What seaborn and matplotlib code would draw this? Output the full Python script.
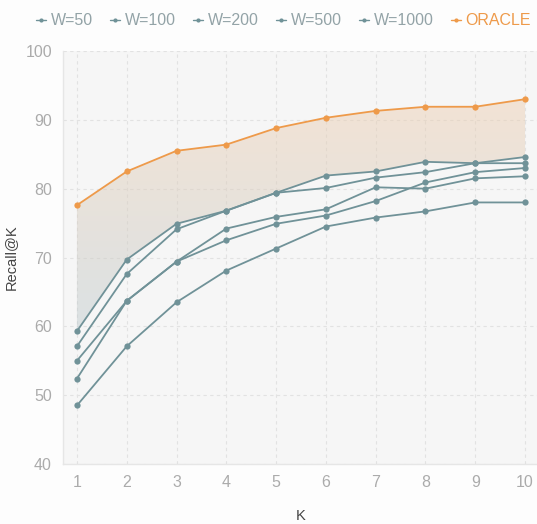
import numpy as np
import pandas as pd
import matplotlib
matplotlib.use("Agg")
import matplotlib.pyplot as plt
from matplotlib.lines import Line2D
import seaborn as sns

# Recall@K for each window size W, plus the oracle upper bound
k_values = [1, 2, 3, 4, 5, 6, 7, 8, 9, 10]
w_labels = ["W=50", "W=100", "W=200", "W=500", "W=1000"]
recall_w50 = [48.5, 57.1, 63.5, 68.1, 71.3, 74.5, 75.8, 76.7, 78.0, 78.0]
recall_w100 = [52.4, 63.7, 69.4, 72.5, 74.9, 76.1, 78.2, 80.9, 82.4, 83.0]
recall_w200 = [55.0, 63.7, 69.4, 74.2, 75.9, 77.0, 80.2, 80.0, 81.5, 81.8]
recall_w500 = [57.1, 67.6, 74.1, 76.8, 79.4, 80.1, 81.6, 82.4, 83.7, 83.7]
recall_w1000 = [59.3, 69.7, 74.9, 76.8, 79.4, 81.9, 82.5, 83.9, 83.7, 84.6]
recall_oracle = [77.6, 82.5, 85.5, 86.4, 88.8, 90.3, 91.3, 91.9, 91.9, 93.0]
y_ticks = [40, 50, 60, 70, 80, 90, 100]

series = {
    "W=50": recall_w50,
    "W=100": recall_w100,
    "W=200": recall_w200,
    "W=500": recall_w500,
    "W=1000": recall_w1000,
    "ORACLE": recall_oracle,
}
frames = [pd.DataFrame({"K": k_values, "Recall": v, "Method": name})
          for name, v in series.items()]
df = pd.concat(frames, ignore_index=True)

SLATE = "#709298"
ORANGE = "#EE9A4A"
palette = {name: SLATE for name in w_labels}
palette["ORACLE"] = ORANGE

sns.set_theme(style="white")
plt.rcParams["font.family"] = ["Liberation Sans", "DejaVu Sans"]

fig = plt.figure(figsize=(5.37, 5.24), dpi=100, facecolor="#FDFDFD")
ax = fig.add_axes([63 / 537, 60 / 524, (539 - 63) / 537, (464 - 51) / 524])
ax.set_facecolor("#F6F6F6")

x_lo, x_hi = 0.72, 10.28
y_lo, y_hi = 40, 100

# gradient band between best window and the oracle
best_w = np.max(np.array([recall_w50, recall_w100, recall_w200,
                          recall_w500, recall_w1000]), axis=0)
band = ax.fill_between(k_values, best_w, recall_oracle, color="none", lw=0)
n = 256
t = np.linspace(0, 1, n)[:, None]  # 0 at top, 1 at bottom
top_c = np.array([240, 208, 178]) / 255
bot_c = np.array([190, 204, 210]) / 255
rgb = top_c * (1 - t) + bot_c * t
alpha = np.full((n, 1), 0.5)
grad = np.concatenate([rgb, alpha], axis=1)[:, None, :].repeat(2, axis=1)
img = ax.imshow(grad, extent=[x_lo, x_hi, 58, 94], aspect="auto",
                origin="upper", zorder=1)
img.set_clip_path(band.get_paths()[0], transform=ax.transData)

sns.lineplot(data=df, x="K", y="Recall", hue="Method", palette=palette,
             marker="o", markersize=4.5, markeredgewidth=0, linewidth=1.3,
             legend=False, ax=ax, zorder=3)

ax.set_xlim(x_lo, x_hi)
ax.set_ylim(y_lo, y_hi)
ax.set_xticks(k_values)
ax.set_yticks(y_ticks)
ax.grid(True, color="#E2E2E2", linestyle=(0, (3, 3)), linewidth=0.8)
ax.set_axisbelow(True)
for side in ["top", "right"]:
    ax.spines[side].set_visible(False)
for side in ["left", "bottom"]:
    ax.spines[side].set_color("#E6E6E6")
    ax.spines[side].set_linewidth(1.0)
ax.tick_params(axis="both", length=0, labelsize=11.5, labelcolor="#ABABAB", pad=8)
ax.set_xlabel("K", fontsize=10.5, color="#444444")
ax.set_ylabel("Recall@K", fontsize=10.5, color="#444444")
ax.yaxis.set_label_coords(-0.095, 0.5)
ax.xaxis.set_label_coords(0.5, -0.11)

handles = [Line2D([0], [0], color=palette[name], marker="o", markersize=3,
                  markeredgewidth=0, linewidth=1.0) for name in series]
leg = fig.legend(handles, list(series), loc="upper left", ncol=6,
                 bbox_to_anchor=(0.052, 0.99), frameon=False, fontsize=11.5,
                 borderpad=0, handlelength=0.65, handletextpad=0.3,
                 columnspacing=1.05)
for txt, name in zip(leg.get_texts(), series):
    txt.set_color(ORANGE if name == "ORACLE" else "#93A3A7")

fig.savefig("out.png", dpi=100, facecolor=fig.get_facecolor())
